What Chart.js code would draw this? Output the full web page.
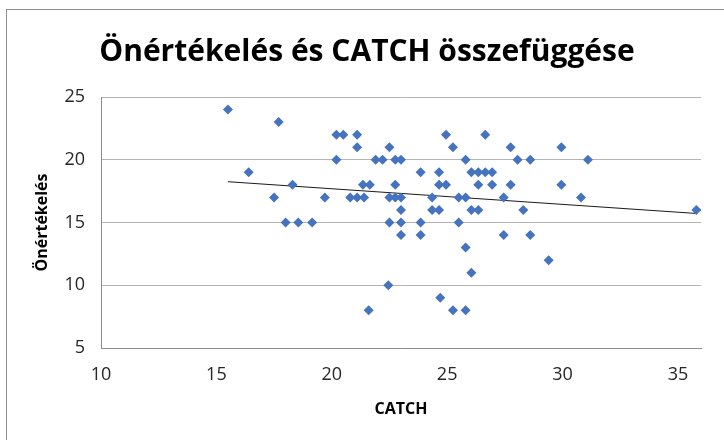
<!DOCTYPE html>
<html>
<head>
<meta charset="utf-8">
<script src="https://cdn.jsdelivr.net/npm/chart.js@4.4.1/dist/chart.umd.min.js"></script>
<style>
  html, body { margin: 0; padding: 0; background: #fff; }
  #wrap { width: 724px; height: 440px; }
</style>
</head>
<body>
<div id="wrap"><canvas id="c" width="724" height="440"></canvas></div>
<script>
// CATCH pontszám (x) és önértékelés (y)
const catchVals = [
  15.5, 17.7, 16.4, 17.5, 18.3, 18.0, 18.55, 19.15, 19.7, 20.2,
  20.5, 21.1, 21.1, 20.2, 21.9, 20.8, 21.1, 21.4, 21.35, 21.65,
  22.2, 22.5, 22.75, 23.0, 22.75, 22.5, 22.75, 23.0, 23.0, 22.5,
  23.0, 23.0, 23.85, 23.85, 23.85, 24.35, 24.35, 24.65, 24.65, 24.65,
  24.95, 24.95, 25.25, 25.5, 25.8, 25.5, 25.8, 25.8, 26.05, 26.35,
  26.65, 26.95, 26.05, 26.35, 26.35, 26.65, 26.95, 27.45, 27.45, 27.75,
  27.75, 28.05, 28.3, 28.6, 28.6, 29.95, 29.95, 31.1, 30.8, 35.8,
  22.45, 21.6, 29.4, 26.05, 24.7, 25.25, 25.8
];
const onertekeles = [
  24, 23, 19, 17, 18, 15, 15, 15, 17, 22,
  22, 22, 21, 20, 20, 17, 17, 17, 18, 18,
  20, 21, 20, 20, 18, 17, 17, 17, 16, 15,
  15, 14, 19, 15, 14, 17, 16, 16, 19, 18,
  18, 22, 21, 17, 17, 15, 20, 13, 19, 19,
  19, 19, 16, 16, 18, 22, 18, 17, 14, 21,
  18, 20, 16, 20, 14, 21, 18, 20, 17, 16,
  10, 8, 12, 11, 9, 8, 8
];

// lineáris trendvonal végpontjai
const trendX = [15.5, 35.8];
const trendY = [18.25, 15.72];

const xTicks = [10, 15, 20, 25, 30, 35];
const yTicks = [5, 10, 15, 20, 25];

const points = catchVals.map((x, i) => ({ x: x, y: onertekeles[i] }));
const trend = trendX.map((x, i) => ({ x: x, y: trendY[i] }));

const tickFont = { family: "'Open Sans', sans-serif", size: 18 };

// fehér háttér és a keret bal/felső éle
const framePlugin = {
  id: 'frame',
  beforeDraw(chart) {
    const ctx = chart.ctx;
    ctx.save();
    ctx.fillStyle = '#fff';
    ctx.fillRect(0, 0, chart.width, chart.height);
    ctx.strokeStyle = '#8c8c8c';
    ctx.lineWidth = 1;
    ctx.strokeRect(6.5, 9.5, 800, 800);
    ctx.restore();
  }
};

new Chart(document.getElementById('c'), {
  type: 'scatter',
  data: {
    datasets: [
      {
        label: 'Önértékelés',
        data: points,
        pointStyle: 'rectRot',
        pointRadius: 5,
        pointHoverRadius: 5,
        pointBorderWidth: 0,
        backgroundColor: '#4673bf',
        borderColor: '#4673bf'
      },
      {
        label: 'Lineáris (Önértékelés)',
        type: 'line',
        data: trend,
        borderColor: '#1a1a1a',
        borderWidth: 1,
        pointRadius: 0,
        fill: false
      }
    ]
  },
  options: {
    responsive: false,
    animation: false,
    layout: { padding: { left: 33, right: 23, top: 0, bottom: 0 } },
    plugins: {
      legend: { display: false },
      tooltip: { enabled: false },
      title: {
        display: true,
        text: 'Önértékelés és CATCH összefüggése',
        color: '#000',
        font: { family: "'Open Sans', sans-serif", size: 30, weight: 'bold' },
        padding: { top: 34, bottom: 27 }
      }
    },
    scales: {
      x: {
        type: 'linear',
        min: 10,
        max: 36,
        afterBuildTicks(scale) { scale.ticks = xTicks.map(v => ({ value: v })); },
        afterFit(scale) { scale.height = 92; },
        ticks: { color: '#262626', font: tickFont, padding: 16 },
        grid: { display: false, drawTicks: false },
        border: { display: true, color: '#8c8c8c', width: 1 },
        title: {
          display: true,
          text: 'CATCH',
          color: '#000',
          font: { family: "'Open Sans', sans-serif", size: 16, weight: 'bold' },
          padding: { top: 0, bottom: 21 }
        }
      },
      y: {
        min: 5,
        max: 25,
        afterBuildTicks(scale) { scale.ticks = yTicks.map(v => ({ value: v })); },
        afterFit(scale) { scale.width = 68; },
        ticks: { color: '#262626', font: tickFont, padding: 16 },
        grid: { color: '#b4b4b4', drawTicks: false },
        border: { display: true, color: '#8c8c8c', width: 1 },
        title: {
          display: true,
          text: 'Önértékelés',
          color: '#000',
          font: { family: "'Open Sans', sans-serif", size: 16, weight: 'bold' },
          padding: { top: 0, bottom: 0 }
        }
      }
    }
  },
  plugins: [framePlugin]
});
</script>
</body>
</html>
